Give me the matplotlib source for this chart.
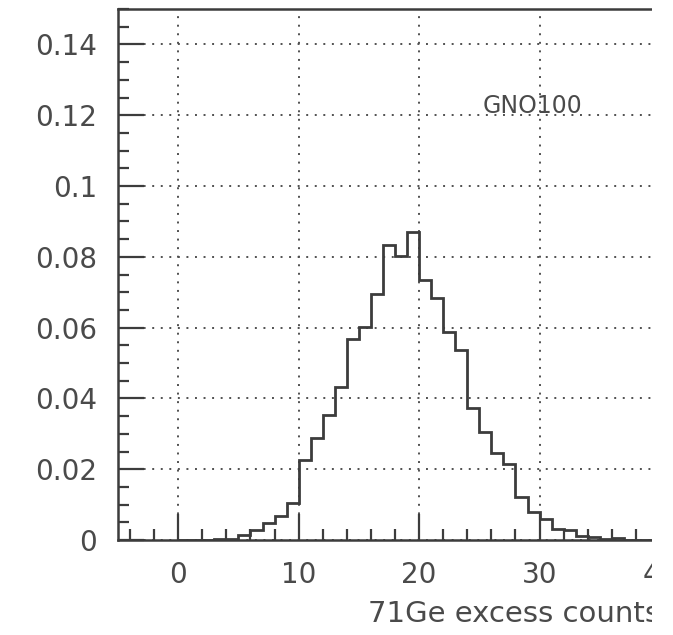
"""
GNO100 - simulated distribution of 71Ge excess counts
Normalised histogram, drawn PAW style (dotted grid, inward ticks)
"""

import numpy as np
import matplotlib
matplotlib.use("Agg")
import matplotlib.pyplot as plt
from matplotlib.patches import Rectangle
from matplotlib.ticker import MultipleLocator

# bin edges 0..40, one count per unit
bin_edges = np.arange(0, 41)
bin_values = [
    0.0, 0.0, 0.0, 0.0002, 0.0004, 0.0014, 0.0028, 0.0049, 0.0068, 0.0105,
    0.0226, 0.0287, 0.0353, 0.0431, 0.0569, 0.0602, 0.0694, 0.0834, 0.0802, 0.0869,
    0.0734, 0.0684, 0.0588, 0.0536, 0.0372, 0.0306, 0.0246, 0.0215, 0.0122, 0.0080,
    0.0058, 0.0031, 0.0028, 0.0012, 0.0009, 0.0002, 0.0005, 0.0, 0.0, 0.0,
]

x_ticks = [0, 10, 20, 30, 40]
y_ticks = [0, 0.02, 0.04, 0.06, 0.08, 0.1, 0.12, 0.14]
y_tick_labels = ["0", "0.02", "0.04", "0.06", "0.08", "0.1", "0.12", "0.14"]

x_title = "71Ge excess counts"
run_label = "GNO100"

INK = "#3c3c3c"
TEXT = "#4a4a4a"

plt.rcParams["font.family"] = ["DejaVu Sans"]

fig = plt.figure(figsize=(6.73, 6.35), dpi=100)
ax = fig.add_axes([118 / 673, 95 / 635, 542 / 673, 531 / 635])

# histogram outline
ax.stairs(bin_values, bin_edges, color=INK, linewidth=2.0, baseline=0, zorder=3)

ax.set_xlim(-5, 40)
ax.set_ylim(0, 0.15)

ax.set_xticks(x_ticks)
ax.set_yticks(y_ticks)
ax.set_yticklabels(y_tick_labels)
ax.xaxis.set_minor_locator(MultipleLocator(2))
ax.yaxis.set_minor_locator(MultipleLocator(0.005))

ax.tick_params(which="both", direction="in", top=False, right=False,
               colors=INK, labelcolor=TEXT, labelsize=20, pad=15)
ax.tick_params(which="major", length=19, width=1.6)
ax.tick_params(which="minor", length=8, width=1.6)

ax.grid(True, which="major", color="#505050", linewidth=1.4,
        linestyle=(0, (1, 3.4)))
ax.set_axisbelow(True)

for side in ["top", "bottom", "left"]:
    ax.spines[side].set_color(INK)
    ax.spines[side].set_linewidth(1.8)
ax.spines["right"].set_visible(False)

ax.set_xlabel(x_title, loc="right", fontsize=21, color=TEXT, labelpad=8)

ax.text(25.3, 0.1205, run_label, fontsize=17, color=TEXT, zorder=4)

# the scan is cut off on the right
fig.add_artist(Rectangle((652 / 673, 0), 1, 1, transform=fig.transFigure,
                         facecolor="white", edgecolor="none", zorder=10))

fig.savefig("out.png", dpi=100)
plt.close(fig)
